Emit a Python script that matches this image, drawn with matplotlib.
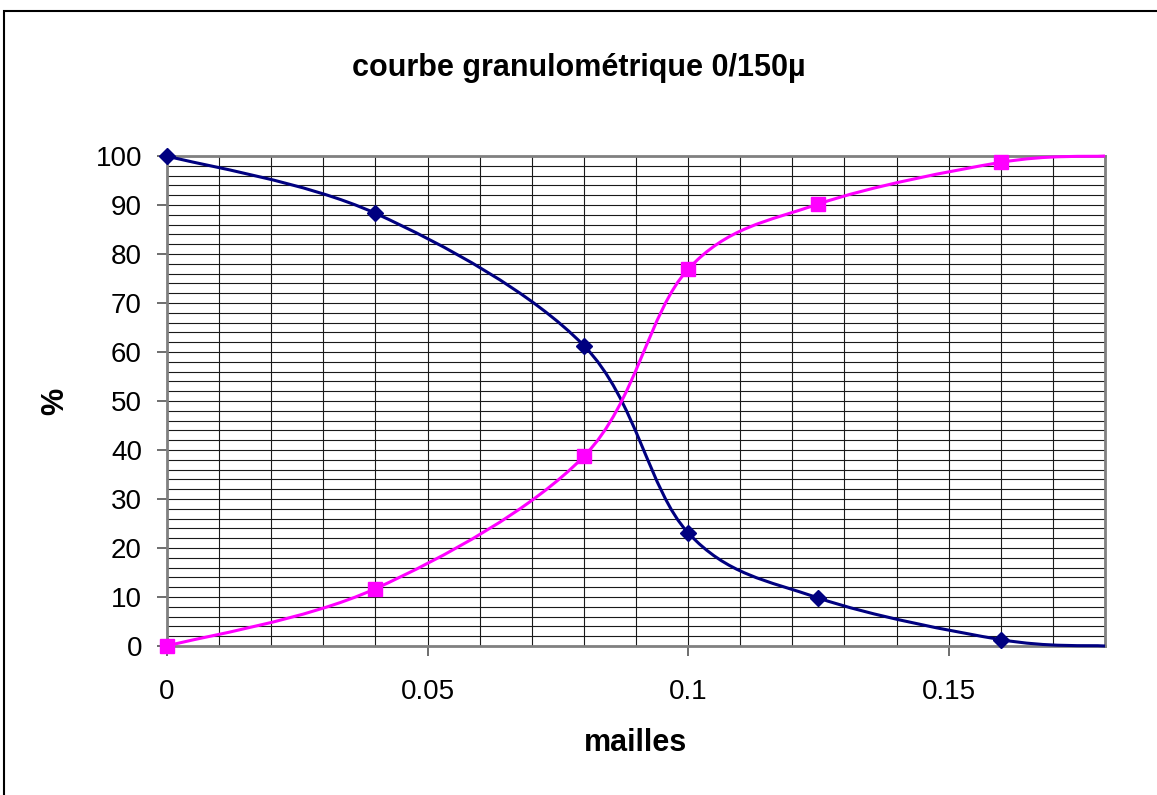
import numpy as np
import matplotlib
matplotlib.use("Agg")
import matplotlib.pyplot as plt
from matplotlib.path import Path
from matplotlib.patches import PathPatch, Rectangle

plt.rcParams['font.family'] = ['Liberation Sans', 'DejaVu Sans']

# data
mailles = [0, 0.04, 0.08, 0.1, 0.125, 0.16, 0.18]
refus = [100, 88.3, 61.3, 23.1, 9.8, 1.3, 0]
tamisat = [0, 11.7, 38.7, 76.9, 90.2, 98.7, 100]


def smooth_path(x, y):
    # Excel-like smoothed line: cubic bezier segments (catmull-rom control points)
    pts = np.column_stack([x, y]).astype(float)
    n = len(pts)
    verts = [pts[0]]
    codes = [Path.MOVETO]
    for i in range(n - 1):
        p0 = pts[i - 1] if i > 0 else pts[i]
        p1 = pts[i]
        p2 = pts[i + 1]
        p3 = pts[i + 2] if i + 2 < n else pts[i + 1]
        c1 = p1 + (p2 - p0) / 6.0
        c2 = p2 - (p3 - p1) / 6.0
        verts += [c1, c2, p2]
        codes += [Path.CURVE4] * 3
    return Path(verts, codes)


fig = plt.figure(figsize=(11.57, 7.95), dpi=100)
ax = fig.add_axes([167 / 1157, 1 - 646 / 795, (1105 - 167) / 1157, (646 - 156) / 795])

# grid
ax.set_xticks(np.arange(0, 0.1801, 0.01), minor=True)
ax.set_yticks(np.arange(0, 100.1, 2), minor=True)
ax.grid(which='both', color='#1a1a1a', linewidth=0.8)
ax.set_axisbelow(True)
ax.tick_params(which='minor', length=0)

ax.add_patch(PathPatch(smooth_path(mailles, refus), facecolor='none',
                       edgecolor='#000080', linewidth=2.2, clip_on=False, zorder=3))
ax.add_patch(PathPatch(smooth_path(mailles, tamisat), facecolor='none',
                       edgecolor='#ff00ff', linewidth=2.2, clip_on=False, zorder=3))
ax.plot(mailles[:-1], refus[:-1], linestyle='none', marker='D', markersize=8,
        color='#000080', clip_on=False, zorder=4)
ax.plot(mailles[:-1], tamisat[:-1], linestyle='none', marker='s', markersize=10,
        color='#ff00ff', clip_on=False, zorder=4)

ax.set_xlim(0, 0.18)
ax.set_ylim(0, 100)
ax.set_xticks([0, 0.05, 0.1, 0.15])
ax.set_xticklabels(['0', '0.05', '0.1', '0.15'])
ax.set_yticks(np.arange(0, 101, 10))
ax.tick_params(which='major', direction='out', length=7, width=1.2, color='#555555',
               labelsize=20, pad=11)
ax.tick_params(axis='x', which='major', pad=17)

for s in ax.spines.values():
    s.set_color('#808080')
    s.set_linewidth(2)

ax.set_xlabel('mailles', fontsize=22, fontweight='bold', labelpad=16)
ax.set_ylabel('%', fontsize=22, fontweight='bold', labelpad=18)
fig.text(0.5, 1 - 68 / 795, 'courbe granulométrique 0/150µ', ha='center', va='center',
         fontsize=22, fontweight='bold')

# chart area border
fig.patches.append(Rectangle((4 / 1157, -0.1), 1.2, 1 - 11 / 795 + 0.1,
                             transform=fig.transFigure, fill=False,
                             edgecolor='black', linewidth=1.5))

fig.savefig('out.png', dpi=100)
plt.close(fig)
